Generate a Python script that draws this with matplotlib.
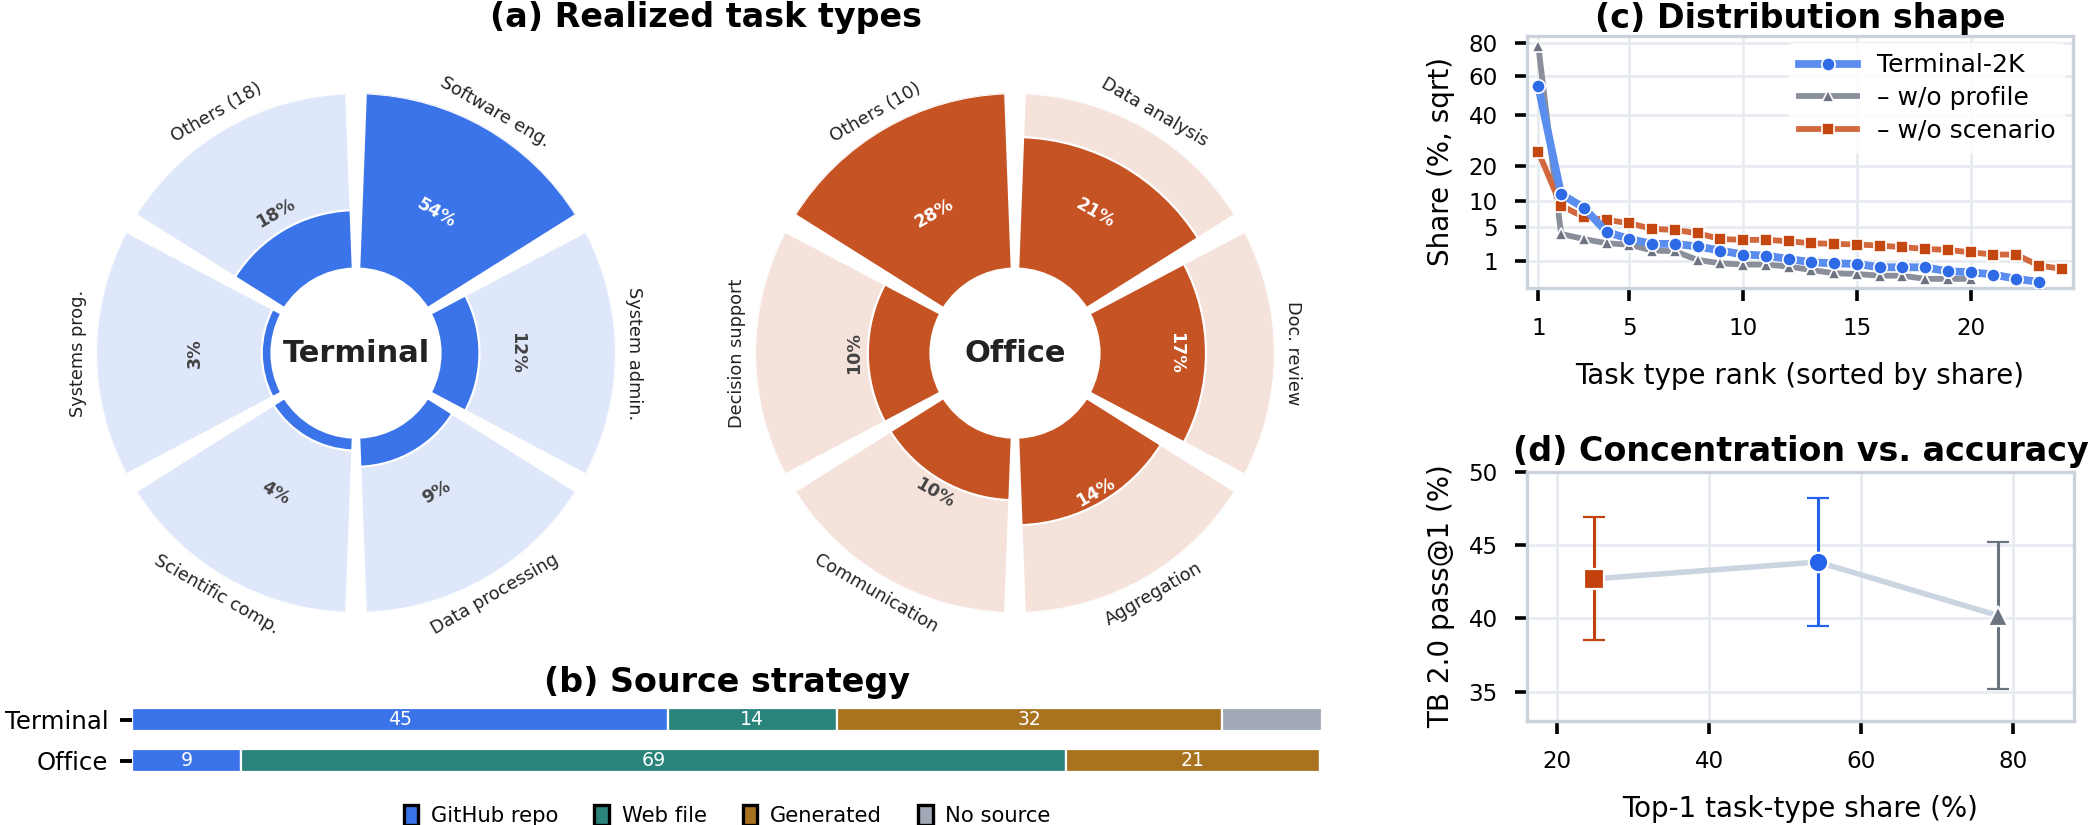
import numpy as np
import matplotlib.pyplot as plt
from matplotlib.patches import Patch

# (a) realized task types, clockwise from the top-right sector
term_types = ["Software eng.", "System admin.", "Data processing",
              "Scientific comp.", "Systems prog.", "Others (18)"]
term_share = [54, 12, 9, 4, 3, 18]
office_types = ["Data analysis", "Doc. review", "Aggregation",
                "Communication", "Decision support", "Others (10)"]
office_share = [21, 17, 14, 10, 10, 28]

# (b) source strategy (%)
src_groups = ["Terminal", "Office"]
src_names = ["GitHub repo", "Web file", "Generated", "No source"]
src_terminal = [45.0, 14.2, 32.4, 8.4]
src_office = [9.2, 69.3, 21.3, 0.2]

# (c) share per task-type rank (%)
share_full = [54.3, 11.8, 8.6, 4.2, 3.2, 2.6, 2.6, 2.3, 1.87, 1.49, 1.4, 1.12,
              0.88, 0.81, 0.77, 0.57, 0.57, 0.57, 0.37, 0.33, 0.24, 0.11, 0.05]
share_noprofile = [78.0, 3.9, 3.2, 2.67, 2.5, 1.87, 1.8, 1.05, 0.81, 0.73, 0.73,
                   0.61, 0.43, 0.29, 0.26, 0.2, 0.2, 0.11, 0.11, 0.11]
share_noscenario = [24.8, 9.06, 6.7, 6.2, 5.6, 4.67, 4.5, 4.0, 3.2, 3.09, 3.09,
                    2.92, 2.67, 2.6, 2.52, 2.4, 2.22, 2.04, 1.93, 1.7, 1.49,
                    1.49, 0.67, 0.49]

# (d) TB 2.0 pass@1 (%) for full / w/o profile / w/o scenario
acc = [43.85, 40.2, 42.7]
acc_err = [4.35, 5.0, 4.2]

BLUE = "#3B73E9"
ORANGE = "#C65323"
SPINE = "#CBD2DB"
GRID = "#E8ECF1"

fig = plt.figure(figsize=(10.44, 4.125), dpi=200)


def donut(rect, names, shares, dark, light, center):
    ax = fig.add_axes(rect, projection="polar")
    n = len(names)
    theta = np.deg2rad(60 - 60 * np.arange(n))
    w = 2 * np.pi / n - 0.075
    hole = 0.325
    top = max(shares)
    r_dark = np.array([hole + (1 - hole) * s / top for s in shares])
    ax.bar(theta, 1 - hole, width=w, bottom=hole, color=light,
           edgecolor="white", linewidth=0.8)
    ax.bar(theta, r_dark - hole, width=w, bottom=hole, color=dark,
           edgecolor="white", linewidth=0.8)
    ax.set_ylim(0, 1)
    ax.set_axis_off()
    r_lab = 0.62
    for t, name, s, rd in zip(theta, names, shares, r_dark):
        deg = np.rad2deg(t) % 360
        rot = deg - 90 if deg <= 180 else deg - 270
        c = "white" if rd > r_lab else "#444444"
        ax.text(t, r_lab, f"{s}%", rotation=rot, ha="center", va="center",
                fontsize=6.3, fontweight="bold", color=c, rotation_mode="anchor")
        ax.text(t, 1.07, name, rotation=rot, ha="center", va="center",
                fontsize=6.4, color="#222222", rotation_mode="anchor")
    ax.text(0, 0, center, ha="center", va="center", fontsize=11,
            fontweight="bold", color="#222222")
    return ax


donut([0.0460, 0.2545, 0.249, 0.635], term_types, term_share,
      BLUE, "#DFE7FB", "Terminal")
donut([0.3616, 0.2545, 0.249, 0.635], office_types, office_share,
      ORANGE, "#F5E2DB", "Office")
fig.text(0.338, 0.979, "(a) Realized task types", ha="center", va="center",
         fontsize=12, fontweight="bold")

# (b)
axb = fig.add_axes([0.0632, 0.0533, 0.570, 0.0994])
src_colors = [BLUE, "#2A847C", "#A8721F", "#A1A9B6"]
vals = np.array([src_terminal, src_office])
left = np.zeros(len(src_groups))
ypos = np.arange(len(src_groups))
for j, col in enumerate(src_colors):
    v = vals[:, j]
    axb.barh(ypos, v, left=left, height=0.56, color=col,
             edgecolor="white", linewidth=0.8)
    for i in range(len(src_groups)):
        if v[i] >= 9:
            axb.text(left[i] + v[i] / 2, ypos[i], f"{v[i]:.0f}", ha="center",
                     va="center", color="white", fontsize=6.8)
    left += v
axb.set_xlim(0, 100)
axb.set_ylim(1.5, -0.5)
axb.set_yticks(ypos)
axb.set_yticklabels(src_groups, fontsize=8.8)
axb.set_xticks([])
axb.tick_params(axis="y", length=4.5, width=1.4, color="black", pad=4)
for s in axb.spines.values():
    s.set_visible(False)
axb.set_title("(b) Source strategy", fontsize=12, fontweight="bold", pad=1)
handles = [Patch(facecolor=c, edgecolor="black", linewidth=1.2, label=n)
           for c, n in zip(src_colors, src_names)]
axb.legend(handles=handles, loc="center", bbox_to_anchor=(0.5, -0.42),
           ncol=4, frameon=False, fontsize=7.6, handlelength=0.7,
           handleheight=1.1, columnspacing=1.7, handletextpad=0.6)

# (c)
axc = fig.add_axes([0.7313, 0.651, 0.2615, 0.3055])
series = [
    (share_full, "Terminal-2K", "#5B8DEF", "#2F6AE6", "o", 2.8, 4.8, 5),
    (share_noprofile, "\u2013 w/o profile", "#8A8F9B", "#6E7481", "^", 2.1, 4.3, 3),
    (share_noscenario, "\u2013 w/o scenario", "#D2693E", "#C4470F", "s", 2.1, 4.1, 4),
]
for vals_s, lab, lc, mc, mk, lw, ms, z in series:
    r = np.arange(1, len(vals_s) + 1)
    axc.plot(r, vals_s, color=lc, lw=lw, marker=mk, ms=ms, mfc=mc,
             mec="white", mew=0.6, label=lab, zorder=z)
axc.set_yscale("function", functions=(lambda v: np.sqrt(np.clip(v, 0, None)),
                                      lambda v: np.square(v)))
axc.set_ylim(0, 85)
axc.set_xlim(0.5, 24.5)
axc.set_yticks([1, 5, 10, 20, 40, 60, 80])
axc.set_yticklabels(["1", "5", "10", "20", "40", "60", "80"])
axc.set_xticks([1, 5, 10, 15, 20])
axc.set_xlabel("Task type rank (sorted by share)", fontsize=10, labelpad=8)
axc.set_ylabel("Share (%, sqrt)", fontsize=10, labelpad=5)
axc.set_title("(c) Distribution shape", fontsize=12, fontweight="bold", pad=3)
leg = axc.legend(loc="upper right", fontsize=9, framealpha=0.85,
                 edgecolor="none", handlelength=2.3, borderaxespad=0.3,
                 labelspacing=0.35)

# (d)
axd = fig.add_axes([0.7313, 0.126, 0.262, 0.302])
top1 = np.array([max(share_full), max(share_noprofile), max(share_noscenario)])
acc_a = np.array(acc)
order = np.argsort(top1)
axd.plot(top1[order], acc_a[order], color="#CBD5E1", lw=2.0, zorder=1)
d_colors = ["#2563EB", "#6B7280", "#C2410C"]
d_markers = ["o", "^", "s"]
for x, y, e, c, m in zip(top1, acc, acc_err, d_colors, d_markers):
    axd.errorbar(x, y, yerr=e, fmt=m, color=c, ms=7, mec="white", mew=0.8,
                 capsize=3.8, elinewidth=1.1, capthick=1.1, zorder=3)
axd.set_xlim(16, 88)
axd.set_ylim(33, 50)
axd.set_xticks([20, 40, 60, 80])
axd.set_yticks([35, 40, 45, 50])
axd.set_xlabel("Top-1 task-type share (%)", fontsize=10, labelpad=8)
axd.set_ylabel("TB 2.0 pass@1 (%)", fontsize=10, labelpad=5)
axd.set_title("(d) Concentration vs. accuracy", fontsize=12,
              fontweight="bold", pad=4)

for ax in (axc, axd):
    ax.grid(color=GRID, lw=1.0)
    ax.set_axisbelow(True)
    for s in ax.spines.values():
        s.set_color(SPINE)
        s.set_linewidth(1.2)
    ax.tick_params(labelsize=8.3, length=4.5, width=1.3, color="black", pad=6)

fig.savefig("out.png", dpi=200)
